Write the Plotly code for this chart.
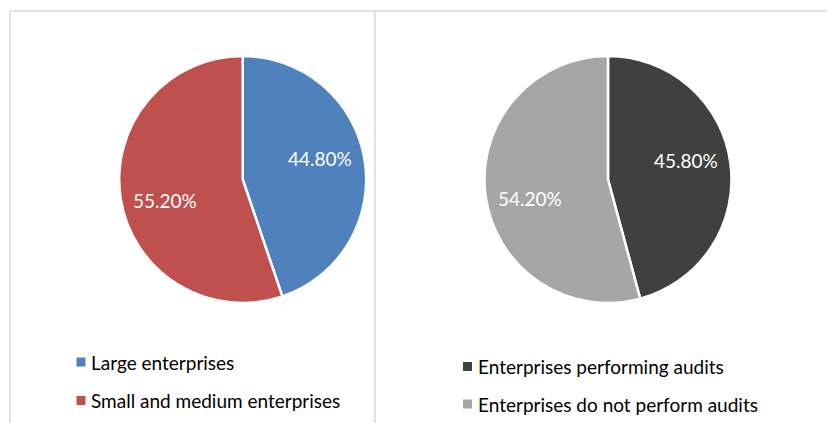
import math
import plotly.graph_objects as go

W, H = 827, 423

left_labels = ["Large enterprises", "Small and medium enterprises"]
left_values = [44.8, 55.2]
left_colors = ["#4F81BD", "#C0504D"]

right_labels = ["Enterprises performing audits", "Enterprises do not perform audits"]
right_values = [45.8, 54.2]
right_colors = ["#404040", "#A6A6A6"]

FONT = "Lato"
CY, R = 179.5, 123.5


def px(x):
    return x / W


def py(y):
    return 1 - y / H


def pie_domain(cx, cy, r):
    return dict(x=[px(cx - r), px(cx + r)], y=[py(cy + r), py(cy - r)])


fig = go.Figure()

for labels, values, colors, cx in [
    (left_labels, left_values, left_colors, 242.7),
    (right_labels, right_values, right_colors, 608),
]:
    fig.add_trace(go.Pie(
        labels=labels,
        values=values,
        sort=False,
        direction="clockwise",
        rotation=0,
        marker=dict(colors=colors, line=dict(color="white", width=2.5)),
        textinfo="none",
        domain=pie_domain(cx, CY, R),
        hoverinfo="label+percent",
    ))
    # data labels placed at (slightly rotated) mid-angle of each slice
    total = sum(values)
    cum = 0.0
    for v in values:
        mid = (cum + v / 2) / total * 360 - 6
        cum += v
        rr = 0.65 * R
        x = cx + rr * math.sin(math.radians(mid))
        y = CY - rr * math.cos(math.radians(mid))
        fig.add_annotation(xref="paper", yref="paper", x=px(x), y=py(y),
                           xanchor="center", yanchor="middle", showarrow=False,
                           text=f"{v / total * 100:.2f}%",
                           font=dict(family=FONT, size=19, color="white"))

# panel borders
border = dict(color="#D9D9D9", width=1.5)
fig.add_shape(type="line", xref="paper", yref="paper", x0=px(10), x1=px(10), y0=py(11), y1=py(H), line=border)
fig.add_shape(type="line", xref="paper", yref="paper", x0=px(10), x1=1, y0=py(11), y1=py(11), line=border)
fig.add_shape(type="line", xref="paper", yref="paper", x0=px(375), x1=px(375), y0=py(11), y1=py(H), line=border)

# legends
legend_specs = [
    (left_labels, left_colors, 81, 89, [362, 400.5]),
    (right_labels, right_colors, 467.5, 476, [366.5, 404]),
]
for labels, colors, mx, tx, ys in legend_specs:
    for lab, col, y in zip(labels, colors, ys):
        fig.add_shape(type="rect", xref="paper", yref="paper",
                      x0=px(mx - 4.5), x1=px(mx + 4.5), y0=py(y + 4.5), y1=py(y - 4.5),
                      fillcolor=col, line=dict(width=0))
        fig.add_annotation(xref="paper", yref="paper", x=px(tx), y=py(y),
                           xanchor="left", yanchor="middle", showarrow=False,
                           text=lab, font=dict(family=FONT, size=19, color="black"))

fig.update_layout(
    width=W, height=H,
    margin=dict(l=0, r=0, t=0, b=0),
    paper_bgcolor="white",
    plot_bgcolor="white",
    showlegend=False,
)

fig.write_html("out.html")
